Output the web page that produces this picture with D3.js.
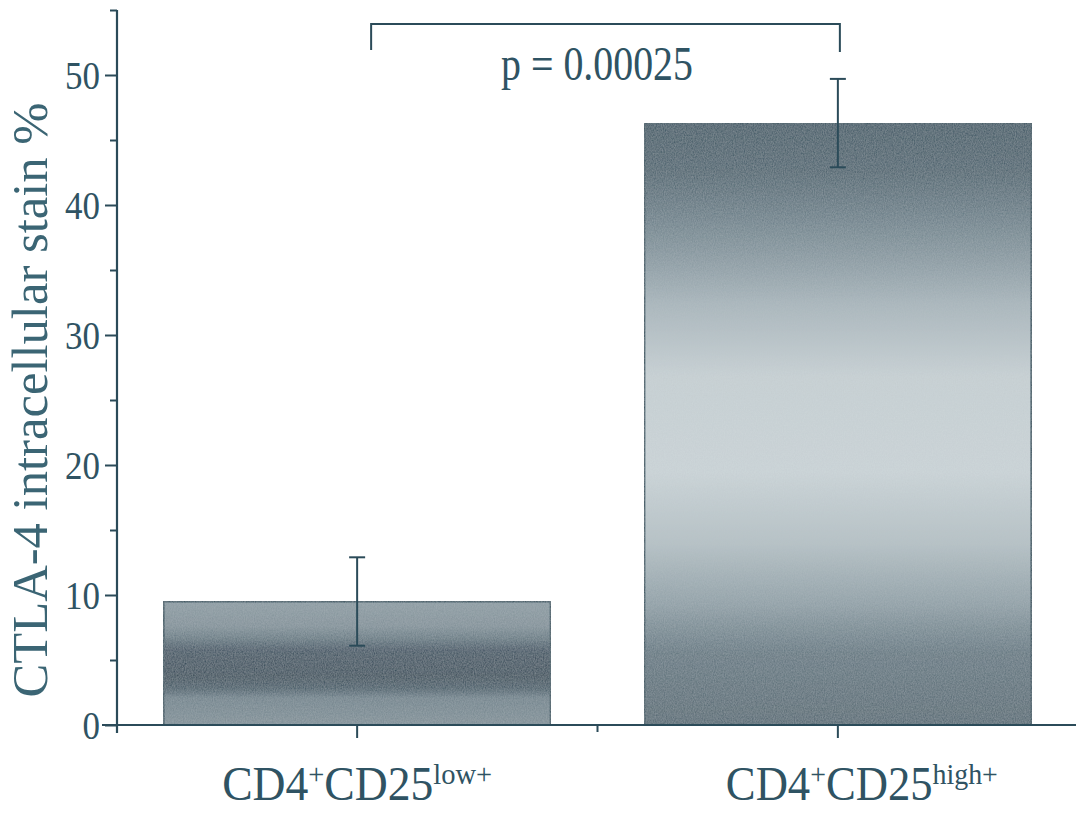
<!DOCTYPE html>
<html>
<head>
<meta charset="utf-8">
<script src="https://cdn.jsdelivr.net/npm/d3@7"></script>
<style>
  body { margin: 0; background: #fff; }
  text { font-family: "Liberation Serif", "Times New Roman", serif; }
</style>
</head>
<body>
<div id="chart"></div>
<script>
// data
const categories = ["low", "high"];
const means = [9.5, 46.3];
const errors = [3.4, 3.4];
const yTicks = [0, 10, 20, 30, 40, 50];
const yMinorTicks = [5, 15, 25, 35, 45, 55];
const pLabel = "p = 0.00025";

const width = 1076, height = 814;
const ink = "#2b4b59";
const textInk = "#2f5363";

const svg = d3.select("#chart").append("svg")
  .attr("width", width)
  .attr("height", height);

const defs = svg.append("defs");

// scanned-paper grain over the bars
const grain = defs.append("filter").attr("id", "grain")
  .attr("x", 0).attr("y", 0).attr("width", 1).attr("height", 1);
grain.append("feTurbulence").attr("type", "fractalNoise")
  .attr("baseFrequency", "0.9 0.6").attr("numOctaves", 2).attr("seed", 4).attr("result", "noise");
grain.append("feColorMatrix").attr("in", "noise").attr("type", "matrix")
  .attr("values", "0 0 0 0 0.5  0 0 0 0 0.55  0 0 0 0 0.58  0 0 0 0.4 0").attr("result", "tint");
grain.append("feComposite").attr("in", "tint").attr("in2", "SourceGraphic").attr("operator", "in").attr("result", "tinted");
grain.append("feMerge").call(m => {
  m.append("feMergeNode").attr("in", "SourceGraphic");
  m.append("feMergeNode").attr("in", "tinted");
});

// vertical shading of each bar, as in the print
const shades = {
  low: [[0, "#8a9aa1"], [0.2, "#808f97"], [0.3, "#62767f"], [0.4, "#33495a"], [0.6, "#2a4250"],
        [0.7, "#3c5461"], [0.78, "#6d7f88"], [1, "#7d8d95"]],
  high: [[0, "#34505e"], [0.08, "#445c68"], [0.18, "#72858e"], [0.3, "#a8b5bb"], [0.42, "#cad3d6"],
         [0.58, "#ced7da"], [0.7, "#b5c1c5"], [0.8, "#8e9ea5"], [0.88, "#5f737d"], [1, "#4f636d"]]
};
Object.entries(shades).forEach(([k, stops]) => {
  const g = defs.append("linearGradient").attr("id", "fill-" + k)
    .attr("x1", 0).attr("y1", 0).attr("x2", 0).attr("y2", 1);
  stops.forEach(([o, c]) => g.append("stop").attr("offset", o).attr("stop-color", c));
});

const y = d3.scaleLinear().domain([0, 55]).range([725, 10]);
const x = d3.scaleBand().domain(categories).range([117, 1078])
  .paddingInner(0.195).paddingOuter(0.097);

// bars
svg.selectAll("rect.bar")
  .data(categories)
  .enter()
  .append("rect")
  .attr("class", "bar")
  .attr("x", d => x(d))
  .attr("y", (d, i) => y(means[i]))
  .attr("width", x.bandwidth())
  .attr("height", (d, i) => y(0) - y(means[i]))
  .attr("fill", d => "url(#fill-" + d + ")")
  .attr("filter", "url(#grain)")
  .attr("stroke", ink)
  .attr("stroke-width", 2);

// error bars
const eb = svg.selectAll("g.err")
  .data(categories)
  .enter()
  .append("g")
  .attr("class", "err")
  .attr("stroke", ink)
  .attr("stroke-width", 2);
eb.append("line")
  .attr("x1", d => x(d) + x.bandwidth() / 2)
  .attr("x2", d => x(d) + x.bandwidth() / 2)
  .attr("y1", (d, i) => y(means[i] + errors[i]))
  .attr("y2", (d, i) => y(means[i] - errors[i]));
[1, -1].forEach(s => {
  eb.append("line")
    .attr("x1", d => x(d) + x.bandwidth() / 2 - 8)
    .attr("x2", d => x(d) + x.bandwidth() / 2 + 8)
    .attr("y1", (d, i) => y(means[i] + s * errors[i]))
    .attr("y2", (d, i) => y(means[i] + s * errors[i]));
});

// y axis
const yAxis = svg.append("g")
  .attr("transform", "translate(117,0)")
  .call(d3.axisLeft(y).tickValues(yTicks).tickSize(12).tickPadding(5));
yAxis.select(".domain").remove();
svg.append("g")
  .attr("transform", "translate(117,0)")
  .call(d3.axisLeft(y).tickValues(yMinorTicks).tickSize(7).tickFormat(""))
  .select(".domain").remove();
svg.append("line")
  .attr("x1", 117).attr("x2", 117)
  .attr("y1", y(55)).attr("y2", y(0) + 8)
  .attr("stroke", ink).attr("stroke-width", 2.2);
svg.selectAll(".tick line").attr("stroke", ink).attr("stroke-width", 2);
yAxis.selectAll("text")
  .attr("fill", textInk)
  .attr("textLength", d => String(d).length * 17.5)
  .attr("lengthAdjust", "spacingAndGlyphs")
  .style("font-size", "41px")
  .style("font-family", "'Liberation Serif', serif");

// x axis
svg.append("line")
  .attr("x1", 102).attr("x2", width)
  .attr("y1", y(0)).attr("y2", y(0))
  .attr("stroke", ink).attr("stroke-width", 2.2);
svg.selectAll("line.xtick")
  .data(categories)
  .enter()
  .append("line")
  .attr("class", "xtick")
  .attr("x1", d => x(d) + x.bandwidth() / 2)
  .attr("x2", d => x(d) + x.bandwidth() / 2)
  .attr("y1", y(0)).attr("y2", y(0) + 13)
  .attr("stroke", ink).attr("stroke-width", 2);
svg.append("line")
  .attr("x1", (x("low") + x("high") + x.bandwidth()) / 2)
  .attr("x2", (x("low") + x("high") + x.bandwidth()) / 2)
  .attr("y1", y(0)).attr("y2", y(0) + 7)
  .attr("stroke", ink).attr("stroke-width", 2);

// category labels with superscripts
const labelWidths = { low: 270, high: 272 };
const labelShift = { low: 0, high: 24 };
const xl = svg.selectAll("text.xlab")
  .data(categories)
  .enter()
  .append("text")
  .attr("class", "xlab")
  .attr("x", d => x(d) + x.bandwidth() / 2 + labelShift[d])
  .attr("y", 800)
  .attr("text-anchor", "middle")
  .attr("fill", textInk)
  .attr("textLength", d => labelWidths[d])
  .attr("lengthAdjust", "spacingAndGlyphs")
  .style("font-size", "48px");
xl.append("tspan").text("CD4");
xl.append("tspan").attr("dy", -16).style("font-size", "30px").text("+");
xl.append("tspan").attr("dy", 16).text("CD25");
xl.append("tspan").attr("dy", -16).style("font-size", "30px").text(d => d + "+");

// y axis title
svg.append("text")
  .attr("transform", "translate(47,400) rotate(-90)")
  .attr("text-anchor", "middle")
  .attr("fill", "#3b6574")
  .attr("textLength", 595)
  .attr("lengthAdjust", "spacingAndGlyphs")
  .style("font-size", "51px")
  .text("CTLA-4 intracellular stain %");

// significance bracket
const xa = x("low") + x.bandwidth() / 2 + 14;
const xb = x("high") + x.bandwidth() / 2 + 2;
svg.append("path")
  .attr("d", d3.line()([[xa, 50], [xa, 24], [xb, 24], [xb, 52]]))
  .attr("fill", "none")
  .attr("stroke", ink)
  .attr("stroke-width", 2);
svg.append("text")
  .attr("x", 597)
  .attr("y", 80)
  .attr("text-anchor", "middle")
  .attr("fill", textInk)
  .attr("textLength", 192)
  .attr("lengthAdjust", "spacingAndGlyphs")
  .style("font-size", "49px")
  .text(pLabel);
</script>
</body>
</html>
